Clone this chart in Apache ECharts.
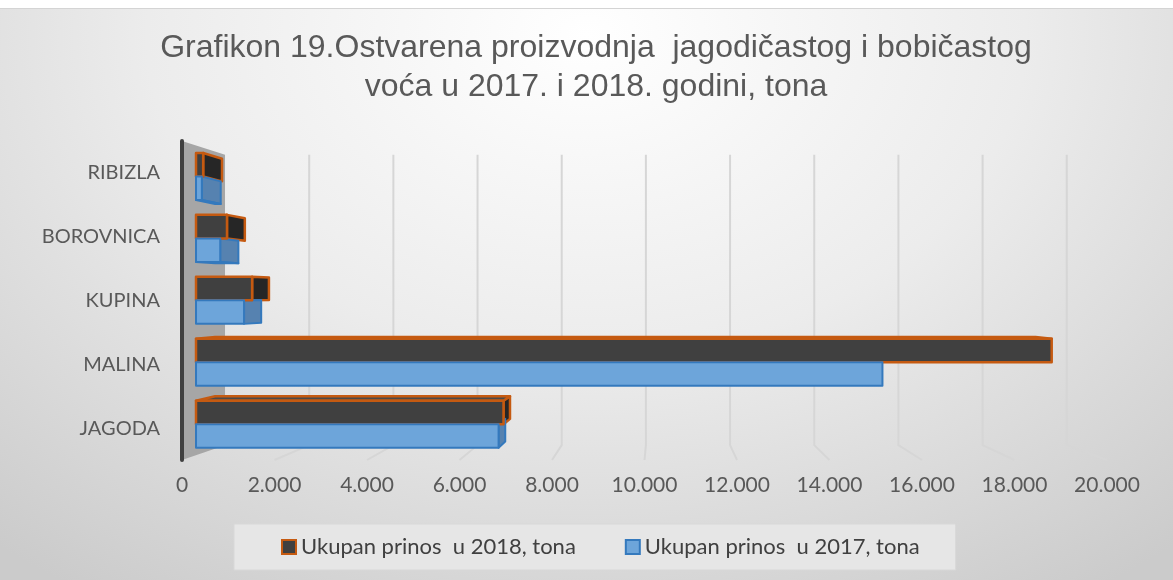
<!DOCTYPE html>
<html>
<head>
<meta charset="utf-8">
<script src="https://cdn.jsdelivr.net/npm/echarts@6/dist/echarts.min.js"></script>
<style>
html,body{margin:0;padding:0;background:#ffffff;}
#wrap{position:relative;width:1173px;height:580px;}
#chart{width:1173px;height:580px;
  background: radial-gradient(ellipse 78% 115% at 50% 6%, #ffffff 0%, #ececec 48%, #cbcbcb 100%);}
#topstrip{position:absolute;left:0;top:0;width:1173px;height:8px;background:#ffffff;border-bottom:1px solid #d4d4d4;pointer-events:none;}
</style>
</head>
<body>
<div id="wrap"><div id="chart"></div><div id="topstrip"></div></div>
<script>
// ---- data ----
const titleText = 'Grafikon 19.Ostvarena proizvodnja  jagodičastog i bobičastog\nvoća u 2017. i 2018. godini, tona';
const categories = ['JAGODA', 'MALINA', 'KUPINA', 'BOROVNICA', 'RIBIZLA'];
const seriesNames = ['Ukupan prinos  u 2018, tona', 'Ukupan prinos  u 2017, tona'];
const prinos2018 = [6850, 19060, 1250, 690, 160];
const prinos2017 = [6740, 15290, 1070, 540, 130];
const xTicks = [0, 2000, 4000, 6000, 8000, 10000, 12000, 14000, 16000, 18000, 20000];

// ---- 3D look (perspective factors, styles) ----
const VP = [10335, 2.086];          // vanishing point in data units (value, category index)
const K_BAR_FRONT = 0.9707;
const K_BAR_BACK = 0.9307;
const K_WALL_BACK = 0.91;
const BAR_T = 0.38;                 // bar thickness as share of band

const styles = [
  { front: '#404040', cap: '#262626', side: '#4a4a4a', stroke: '#C55A11', lw: 2.5 },
  { front: '#6DA5DA', cap: '#5682B0', side: '#5A8CC0', stroke: '#3479BD', lw: 2 }
];

function proj(p, k, vp) {
  return [vp[0] + (p[0] - vp[0]) * k, vp[1] + (p[1] - vp[1]) * k];
}

function fmt(v) {
  return String(v).replace(/\B(?=(\d{3})+(?!\d))/g, '.');
}

// point from value and (possibly fractional) category position
function pt(api, x, c) {
  const band = api.size([0, 1])[1];
  return [api.coord([x, 0])[0], api.coord([0, 0])[1] - c * band];
}

function barRender(params, api) {
  const si = params.seriesIndex - 1; // 0 = 2018 (upper), 1 = 2017 (lower)
  const st = styles[si];
  const v = api.value(0), c = api.value(1);
  const band = api.size([0, 1])[1];
  const vp = pt(api, VP[0], VP[1]);
  const p0 = pt(api, 0, c);
  const p1 = pt(api, v, c);
  const upper = si === 0;
  const yTop = upper ? p0[1] - band * BAR_T : p0[1];
  const yBot = upper ? p0[1] : p0[1] + band * BAR_T;
  const xa = p0[0], xb = p1[0];
  const F = (x, y) => proj([x, y], K_BAR_FRONT, vp);
  const B = (x, y) => proj([x, y], K_BAR_BACK, vp);
  const children = [];
  const sideStyle = (fill) => ({ fill: fill, stroke: st.stroke, lineWidth: st.lw, lineJoin: 'round' });
  if (xb < vp[0]) {
    children.push({ type: 'polygon', z2: 1,
      shape: { points: [F(xb, yTop), B(xb, yTop), B(xb, yBot), F(xb, yBot)] },
      style: sideStyle(st.cap) });
  }
  if (upper && yTop > vp[1]) {
    children.push({ type: 'polygon', z2: 1,
      shape: { points: [F(xa, yTop), F(xb, yTop), B(xb, yTop), B(xa, yTop)] },
      style: sideStyle(st.side) });
  }
  if (!upper && yBot < vp[1]) {
    children.push({ type: 'polygon', z2: 1,
      shape: { points: [F(xa, yBot), F(xb, yBot), B(xb, yBot), B(xa, yBot)] },
      style: sideStyle(st.side) });
  }
  children.push({ type: 'polygon', z2: 5,
    shape: { points: [F(xa, yTop), F(xb, yTop), F(xb, yBot), F(xa, yBot)] },
    style: sideStyle(st.front) });
  return { type: 'group', children: children };
}

function decorRender(params, api) {
  const v = api.value(0);
  const vp = pt(api, VP[0], VP[1]);
  const fTop = pt(api, v, categories.length - 0.5);
  const fBot = pt(api, v, -0.5);
  const bTop = proj(fTop, K_WALL_BACK, vp);
  const bBot = proj(fBot, K_WALL_BACK, vp);
  if (v === 0) {
    return { type: 'polygon', shape: { points: [fTop, bTop, bBot, fBot] },
      style: { fill: '#a6a6a6' } };
  }
  return { type: 'polyline', shape: { points: [bTop, bBot, fBot] },
    style: { fill: null, stroke: '#d6d6d6', lineWidth: 2 } };
}

const chart = echarts.init(document.getElementById('chart'), null, { renderer: 'canvas' });
chart.setOption({
  animation: false,
  backgroundColor: 'transparent',
  title: {
    text: titleText,
    left: 591,
    top: 24,
    textAlign: 'center',
    padding: 5,
    textStyle: { fontFamily: 'Liberation Sans', fontSize: 32, fontWeight: 'normal', color: '#595959', lineHeight: 39 }
  },
  legend: {
    data: seriesNames,
    left: 234,
    top: 524,
    icon: 'rect',
    itemWidth: 14,
    itemHeight: 14,
    itemGap: 49,
    padding: [12, 36, 12, 47],
    backgroundColor: '#e6e6e6',
    borderColor: '#d8d8d8',
    borderWidth: 1,
    textStyle: { fontFamily: 'Lato', fontSize: 22, color: '#404040' }
  },
  grid: { left: 182, right: 66, top: 141, bottom: 120, containLabel: false },
  xAxis: {
    type: 'value', min: 0, max: 20000, interval: 2000,
    axisLine: { show: false }, axisTick: { show: false }, splitLine: { show: false },
    axisLabel: { margin: 15, fontFamily: 'Lato', fontSize: 21, color: '#595959', formatter: fmt }
  },
  yAxis: {
    type: 'category', data: categories, z: 3,
    axisLine: { show: true, lineStyle: { color: '#404040', width: 4, cap: 'round' } },
    axisTick: { show: false },
    axisLabel: { margin: 22, fontFamily: 'Lato', fontSize: 20, color: '#595959' }
  },
  series: [
    { type: 'custom', name: 'decor', silent: true, z: 1, renderItem: decorRender,
      data: xTicks.map(v => [v, 0]), encode: { x: 0, y: 1 } },
    { type: 'custom', name: seriesNames[0], silent: true, renderItem: barRender,
      itemStyle: { color: styles[0].front, borderColor: styles[0].stroke, borderWidth: 2 },
      data: prinos2018.map((v, i) => [v, i]), encode: { x: 0, y: 1 } },
    { type: 'custom', name: seriesNames[1], silent: true, renderItem: barRender,
      itemStyle: { color: styles[1].front, borderColor: styles[1].stroke, borderWidth: 2 },
      data: prinos2017.map((v, i) => [v, i]), encode: { x: 0, y: 1 } }
  ]
});
</script>
</body>
</html>
